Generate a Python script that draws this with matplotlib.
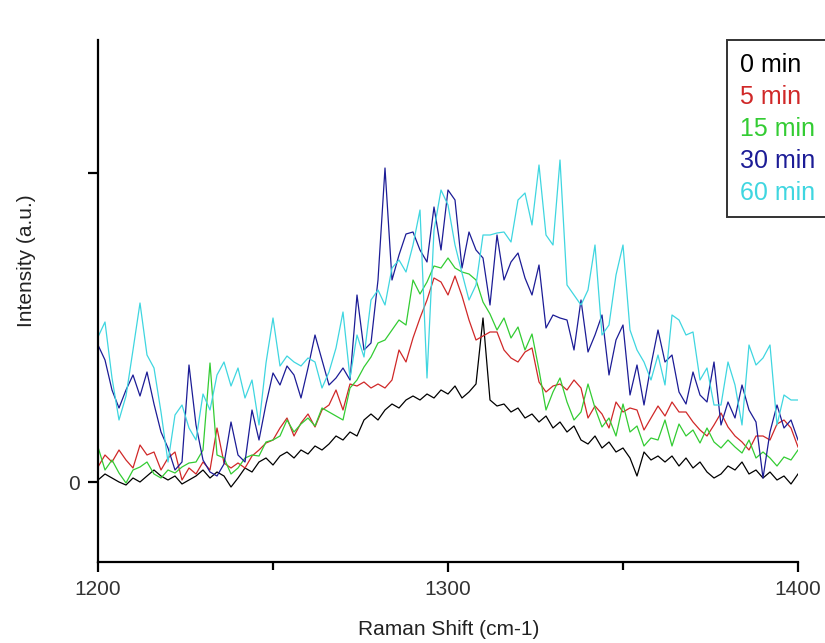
import numpy as np
import matplotlib
matplotlib.use("Agg")
import matplotlib.pyplot as plt
from matplotlib.ticker import FixedLocator

plt.rcParams["font.family"] = ["Liberation Sans", "DejaVu Sans"]

# ---------- data (arbitrary intensity units) ----------
shift = np.arange(1200, 1401, 2)

i_0min = [2, 8, 4, 0, -3, 4, 0, 6, 12, 6, 2, 6, -2, 2, 6, 12, 4, 10, 6, -5,
          4, 14, 10, 20, 24, 17, 26, 30, 24, 32, 28, 36, 32, 38, 46, 42, 50, 46, 62, 68,
          62, 72, 78, 74, 82, 86, 82, 88, 84, 92, 88, 96, 84, 90, 98, 164, 82, 76, 78, 70,
          74, 64, 68, 60, 66, 54, 60, 50, 56, 42, 38, 46, 34, 40, 30, 34, 24, 6, 30, 22,
          26, 20, 26, 16, 24, 14, 20, 10, 4, 8, 16, 12, 20, 8, 12, 4, 10, 2, 6, -2, 8]

i_5min = [15, 27, 20, 32, 22, 14, 37, 27, 30, 12, 24, 30, 2, 14, 8, 20, 12, 54, 19, 14,
          19, 14, 26, 32, 39, 42, 54, 64, 46, 59, 68, 55, 72, 77, 92, 72, 98, 96, 100, 94,
          98, 94, 102, 132, 120, 144, 164, 182, 204, 200, 187, 206, 186, 162, 142, 146, 150, 150, 132, 124,
          120, 130, 134, 100, 90, 96, 98, 92, 102, 94, 64, 76, 68, 54, 80, 70, 74, 72, 52, 64,
          76, 66, 80, 70, 70, 60, 52, 46, 57, 69, 55, 46, 40, 32, 46, 46, 42, 58, 62, 54, 35]

i_15min = [35, 12, 22, 9, -1, 12, 15, 20, 8, 4, 12, 9, 15, 19, 20, 32, 119, 27, 24, 8,
           14, 24, 27, 26, 40, 42, 46, 62, 50, 58, 64, 56, 74, 70, 66, 62, 94, 102, 115, 125,
           139, 142, 152, 162, 157, 202, 188, 200, 216, 214, 224, 214, 210, 208, 202, 180, 168, 152, 164, 144,
           155, 132, 148, 112, 72, 90, 104, 80, 62, 70, 98, 74, 55, 64, 46, 78, 50, 56, 36, 44,
           42, 62, 36, 58, 46, 52, 39, 54, 40, 34, 42, 35, 29, 42, 24, 30, 24, 16, 25, 22, 32]

i_30min = [137, 122, 92, 74, 92, 107, 86, 110, 78, 50, 34, 12, 20, 117, 57, 22, 10, 6, 18, 60,
           27, 20, 72, 42, 78, 109, 97, 116, 107, 84, 114, 147, 122, 97, 104, 114, 102, 187, 132, 139,
           202, 314, 202, 227, 248, 250, 232, 220, 275, 232, 292, 282, 214, 250, 232, 224, 177, 247, 202, 220,
           229, 204, 187, 217, 154, 167, 164, 162, 132, 182, 130, 147, 167, 107, 142, 157, 87, 117, 77, 117,
           152, 120, 127, 90, 78, 110, 87, 80, 120, 57, 80, 64, 97, 72, 60, 4, 50, 77, 54, 62, 42]

i_60min = [145, 160, 104, 62, 86, 132, 179, 127, 114, 70, 20, 67, 77, 54, 42, 88, 72, 107, 120, 96,
           114, 84, 102, 57, 119, 164, 116, 126, 120, 116, 124, 120, 94, 110, 134, 170, 104, 147, 125, 182,
           192, 177, 214, 222, 210, 237, 272, 104, 252, 292, 277, 237, 209, 182, 197, 247, 247, 249, 250, 240,
           282, 289, 257, 317, 247, 237, 322, 197, 187, 177, 192, 237, 147, 157, 207, 237, 152, 132, 120, 102,
           127, 97, 167, 162, 147, 150, 102, 114, 77, 77, 120, 97, 57, 137, 117, 124, 137, 57, 87, 82, 82]

series = [i_0min, i_5min, i_15min, i_30min, i_60min]
labels = ["0 min", "5 min", "15 min", "30 min", "60 min"]
colors = ["#000000", "#d02828", "#33cc33", "#1c1c96", "#3fd6e0"]

ytick_vals = [0, 309]
ytick_text = ["0", ""]
xtick_major = [1200, 1300, 1400]
xtick_minor = [1250, 1350]

# ---------- figure ----------
fig = plt.figure(figsize=(8.25, 6.43), dpi=100)
ax = fig.add_axes([98 / 825, 1 - 562 / 643, 700 / 825, 522 / 643])

for y, lab, c in zip(series, labels, colors):
    ax.plot(shift, y, color=c, lw=0.9, label=lab)

ax.set_xlim(1200, 1400)
ax.set_ylim(-80, 442)
ax.set_xticks(xtick_major)
ax.xaxis.set_minor_locator(FixedLocator(xtick_minor))
ax.set_yticks(ytick_vals)
ax.set_yticklabels(ytick_text)

for s in ["top", "right"]:
    ax.spines[s].set_visible(False)
for s in ["left", "bottom"]:
    ax.spines[s].set_linewidth(1.6)

ax.tick_params(which="major", direction="out", length=7, width=1.6,
               labelsize=15, labelcolor="#333333", pad=6)
ax.tick_params(which="minor", direction="out", length=6, width=1.6)

ax.set_xlabel("Raman Shift (cm-1)", fontsize=15, color="#222222")
ax.set_ylabel("Intensity (a.u.)", fontsize=15, color="#222222")
ax.xaxis.set_label_coords(0.501, -0.111)
ax.yaxis.set_label_coords(-0.088, 0.578)

leg = ax.legend(loc="upper left", bbox_to_anchor=(727 / 825, 1 - 40 / 643),
                bbox_transform=fig.transFigure, frameon=True, fancybox=False,
                handlelength=0, handletextpad=0, fontsize=18, labelspacing=0.32,
                borderpad=0.5, borderaxespad=0)
leg.get_frame().set_edgecolor("black")
leg.get_frame().set_linewidth(1.4)
for txt, c in zip(leg.get_texts(), colors):
    txt.set_color(c)
for h in leg.legend_handles:
    h.set_visible(False)

fig.savefig("out.png", dpi=100)
